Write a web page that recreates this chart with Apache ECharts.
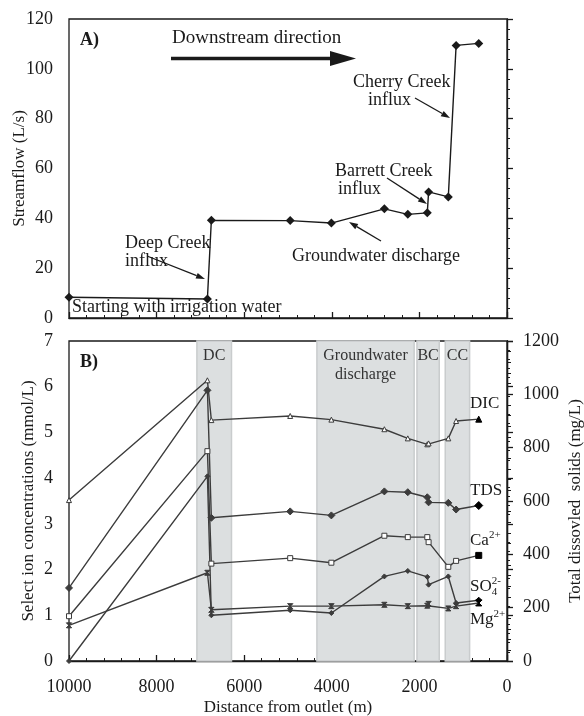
<!DOCTYPE html>
<html>
<head>
<meta charset="utf-8">
<script src="https://cdn.jsdelivr.net/npm/echarts@6/dist/echarts.min.js"></script>
<style>
  html, body { margin: 0; padding: 0; background: #fff; }
  #chart { width: 584px; height: 716px; }
</style>
</head>
<body>
<div id="chart"></div>
<script>
// distance from outlet (m), shared by both panels
const distance = [10000, 6840, 6750, 4950, 4010, 2800, 2265, 1820, 1790, 1340, 1162, 645];
// panel A
const streamflow = [8.3, 7.6, 39.2, 39.1, 38.1, 43.8, 41.6, 42.2, 50.6, 48.6, 109.4, 110.2];
// panel B (mmol/L, TDS in mg/L)
const dic = [3.52, 6.14, 5.27, 5.36, 5.28, 5.07, 4.87, 4.74, 4.76, 4.87, 5.25, 5.29];
const tds = [274, 1015, 537, 561, 546, 636, 633, 614, 595, 593, 568, 583];
const ca = [0.98, 4.59, 2.13, 2.25, 2.15, 2.74, 2.71, 2.71, 2.60, 2.06, 2.19, 2.31];
const so4 = [0.0, 4.04, 1.00, 1.11, 1.05, 1.85, 1.97, 1.84, 1.67, 1.85, 1.27, 1.33];
const mg = [0.78, 1.93, 1.12, 1.20, 1.20, 1.23, 1.20, 1.21, 1.25, 1.15, 1.20, 1.27];
// shaded reaches [from, to, label]
const zones = [
  [7080, 6290, 'DC'],
  [4340, 2120, 'Groundwater\ndischarge'],
  [2056, 1547, 'BC'],
  [1410, 854, 'CC']
];
const xTicks = [10000, 8000, 6000, 4000, 2000, 0];

const font = 'Liberation Serif, Times New Roman, serif';
const ink = '#1a1a1a';
const lineGray = '#3c3c3c';

const chart = echarts.init(document.getElementById('chart'));
const measure = document.createElement('canvas').getContext('2d');

function pairs(ys) {
  return ys.map((y, i) => [distance[i], y]);
}

function arrow(x1, y1, x2, y2, head, half, w) {
  const a = Math.atan2(y2 - y1, x2 - x1);
  const bx = x2 - head * Math.cos(a), by = y2 - head * Math.sin(a);
  const px = -Math.sin(a) * half, py = Math.cos(a) * half;
  return [
    {type: 'line', shape: {x1: x1, y1: y1, x2: bx, y2: by}, style: {stroke: ink, lineWidth: w}},
    {type: 'polygon', shape: {points: [[x2, y2], [bx + px, by + py], [bx - px, by - py]]}, style: {fill: ink}}
  ];
}

function note(x, y, text, weight, size) {
  return {
    type: 'text', x: x, y: y,
    style: {text: text, font: (weight || '') + ' ' + (size || 18) + 'px ' + font, fill: ink, textVerticalAlign: 'middle'}
  };
}

// ion label with optional subscript and superscript
function ion(x, y, base, sub, sup) {
  measure.font = '17px ' + font;
  let w = measure.measureText(base).width;
  const out = [note(x, y, base, '', 17)];
  const small = '11px ' + font;
  if (sub) {
    out.push({type: 'text', x: x + w, y: y + 5, style: {text: sub, font: small, fill: ink, textVerticalAlign: 'middle'}});
  }
  if (sup) {
    out.push({type: 'text', x: x + w, y: y - 6, style: {text: sup, font: small, fill: ink, textVerticalAlign: 'middle'}});
  }
  return out;
}

const xAxisBase = {
  type: 'value', inverse: true, min: 0, max: 10000, interval: 2000,
  axisLine: {onZero: false, lineStyle: {color: ink, width: 1.3}},
  axisTick: {inside: true, length: 6, lineStyle: {color: ink, width: 1.3}},
  minorTick: {show: true, splitNumber: 5, length: 3, lineStyle: {color: ink}},
  splitLine: {show: false}
};

const yTickStyle = {inside: true, length: 6, lineStyle: {color: ink, width: 1.3}};
const labelStyle = {color: ink, fontFamily: font, fontSize: 18};
const nameStyle = {color: ink, fontFamily: font, fontSize: 17};

function ionSeries(name, values, symbol, size, hollow) {
  return {
    name: name, type: 'line', xAxisIndex: 1, yAxisIndex: name === 'TDS' ? 2 : 1,
    data: pairs(values).map((p, i) => i === values.length - 1
      ? {value: p, symbolSize: size + 1, itemStyle: {color: '#000', borderColor: '#000'}}
      : {value: p}),
    symbol: symbol, symbolSize: size,
    lineStyle: {color: lineGray, width: 1.4},
    itemStyle: {color: hollow ? '#fff' : lineGray, borderColor: lineGray, borderWidth: 1},
    z: 5
  };
}

const graphics = [
  note(80, 40, 'A)', 'bold'),
  note(172, 38, 'Downstream direction', '', 19),
  ...arrow(171, 58.5, 356, 58.5, 26, 7.5, 3.5),
  note(125, 243, 'Deep Creek'),
  note(125, 261, 'influx'),
  ...arrow(147, 256, 205, 279, 9, 3, 1.3),
  note(353, 82, 'Cherry Creek'),
  note(368, 100, 'influx'),
  ...arrow(415, 98, 450, 118, 9, 3, 1.3),
  note(335, 171, 'Barrett Creek'),
  note(338, 189, 'influx'),
  ...arrow(387, 178, 427, 204, 9, 3, 1.3),
  note(292, 256, 'Groundwater discharge'),
  ...arrow(381, 241, 349, 222, 9, 3, 1.3),
  note(72, 307, 'Starting with irrigation water'),
  note(80, 362, 'B)', 'bold'),
  note(470, 404, 'DIC', '', 17),
  note(470, 491, 'TDS', '', 17),
  ...ion(470, 541, 'Ca', null, '2+'),
  ...ion(470, 587, 'SO', '4', '2-'),
  ...ion(470, 620, 'Mg', null, '2+')
];

const option = {
  animation: false,
  backgroundColor: '#fff',
  textStyle: {fontFamily: font},
  grid: [
    {left: 69, right: 77, top: 19, bottom: 398, show: true, borderColor: ink, borderWidth: 1.3, outerBoundsMode: 'none'},
    {left: 69, right: 77, top: 341, bottom: 55, show: true, borderColor: ink, borderWidth: 1.3, outerBoundsMode: 'none'}
  ],
  xAxis: [
    Object.assign({}, xAxisBase, {gridIndex: 0, axisLabel: {show: false}}),
    Object.assign({}, xAxisBase, {
      gridIndex: 1,
      axisLabel: Object.assign({margin: 17, formatter: v => xTicks.includes(v) ? String(v) : ''}, labelStyle),
      name: 'Distance from outlet (m)', nameLocation: 'middle', nameGap: 38, nameTextStyle: nameStyle,
      nameMoveOverlap: false
    })
  ],
  yAxis: [
    {
      gridIndex: 0, type: 'value', min: 0, max: 120, interval: 20,
      axisLine: {lineStyle: {color: ink, width: 1.3}},
      axisTick: yTickStyle,
      minorTick: {show: true, splitNumber: 5, length: 3, lineStyle: {color: ink}},
      splitLine: {show: false},
      axisLabel: Object.assign({margin: 16}, labelStyle),
      name: 'Streamflow (L/s)', nameLocation: 'middle', nameGap: 41, nameTextStyle: nameStyle,
      nameMoveOverlap: false
    },
    {
      gridIndex: 1, type: 'value', min: 0, max: 7, interval: 1,
      axisLine: {lineStyle: {color: ink, width: 1.3}},
      axisTick: yTickStyle,
      minorTick: {show: true, splitNumber: 5, length: 3, lineStyle: {color: ink}},
      splitLine: {show: false},
      axisLabel: Object.assign({margin: 16}, labelStyle),
      name: 'Select ion concentrations (mmol/L)', nameLocation: 'middle', nameGap: 32, nameTextStyle: nameStyle,
      nameMoveOverlap: false
    },
    {
      gridIndex: 1, type: 'value', position: 'right', min: 0, max: 1200, interval: 200,
      axisLine: {show: true, lineStyle: {color: ink, width: 1.3}},
      axisTick: {inside: false, length: 6, lineStyle: {color: ink, width: 1.3}},
      minorTick: {show: true, splitNumber: 5, length: 4, lineStyle: {color: ink}},
      splitLine: {show: false},
      axisLabel: Object.assign({margin: 16, formatter: v => String(v)}, labelStyle),
      name: 'Total dissovled  solids (mg/L)', nameLocation: 'middle', nameGap: 60, nameTextStyle: nameStyle,
      nameMoveOverlap: false
    }
  ],
  series: [
    {
      name: 'Streamflow', type: 'line', xAxisIndex: 0, yAxisIndex: 0,
      data: pairs(streamflow),
      symbol: 'diamond', symbolSize: 9,
      lineStyle: {color: ink, width: 1.4},
      itemStyle: {color: ink}
    },
    {
      name: 'zones', type: 'line', xAxisIndex: 1, yAxisIndex: 1, data: [], silent: true,
      markArea: {
        silent: true,
        itemStyle: {color: '#dcdfe0', borderColor: '#c9cccd', borderWidth: 1.5},
        label: {position: 'insideTop', distance: 6, color: '#333', fontFamily: font, fontSize: 16, lineHeight: 19},
        data: zones.map(z => [{xAxis: z[0], name: z[2]}, {xAxis: z[1]}])
      },
      z: 1
    },
    ionSeries('DIC', dic, 'triangle', 5, true),
    ionSeries('TDS', tds, 'diamond', 7, false),
    ionSeries('Ca', ca, 'rect', 5, true),
    ionSeries('SO4', so4, 'diamond', 5, false),
    ionSeries('Mg', mg, 'path://M0,0L10,10M10,0L0,10M0,0L10,0L0,10L10,10Z', 5, false)
  ],
  graphic: graphics
};

chart.setOption(option);
</script>
</body>
</html>
